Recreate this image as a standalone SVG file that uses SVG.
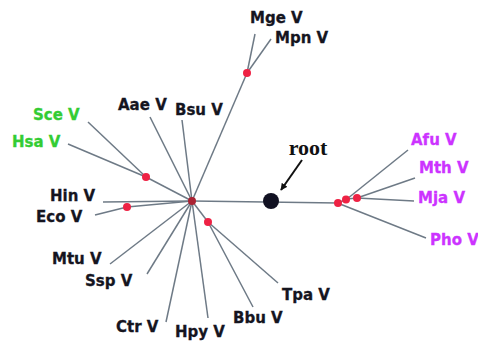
<svg xmlns="http://www.w3.org/2000/svg" width="478" height="341" viewBox="0 0 478 341">
<style>
.e{stroke:#6e7a86;stroke-width:1.5;fill:none}
.t{font-family:"DejaVu Sans",sans-serif;font-weight:bold;font-size:15px;fill:#15151f;stroke:#15151f;stroke-width:0.3}
.g{fill:#33cc33;stroke:#33cc33}
.m{fill:#cc33ff;stroke:#cc33ff}
.r{fill:#ee2244}
</style>
<defs>
<marker id="ah" viewBox="0 0 10 10" refX="9" refY="5" markerWidth="7" markerHeight="7" markerUnits="userSpaceOnUse" orient="auto"><path d="M0,0 L10,5 L0,10 z" fill="#111"/></marker>
</defs>
<rect width="478" height="341" fill="#fff"/>
<g id="edges">
<line class="e" x1="192" y1="201" x2="338" y2="203"/>
<line class="e" x1="338" y1="203" x2="347" y2="199"/>
<line class="e" x1="347" y1="199" x2="357" y2="198"/>
<line class="e" x1="347" y1="199" x2="408" y2="150"/>
<line class="e" x1="357" y1="198" x2="415" y2="178"/>
<line class="e" x1="357" y1="198" x2="414" y2="201"/>
<line class="e" x1="340" y1="204" x2="426" y2="238"/>
<line class="e" x1="192" y1="201" x2="247" y2="73"/>
<line class="e" x1="247" y1="73" x2="255" y2="34"/>
<line class="e" x1="247" y1="73" x2="271" y2="39"/>
<line class="e" x1="192" y1="201" x2="150" y2="117"/>
<line class="e" x1="192" y1="201" x2="182" y2="120"/>
<line class="e" x1="192" y1="201" x2="146" y2="177"/>
<line class="e" x1="146" y1="177" x2="88" y2="122"/>
<line class="e" x1="146" y1="177" x2="68" y2="144"/>
<line class="e" x1="192" y1="201" x2="103" y2="202"/>
<line class="e" x1="192" y1="201" x2="127" y2="207"/>
<line class="e" x1="127" y1="207" x2="95" y2="215"/>
<line class="e" x1="192" y1="201" x2="110" y2="264"/>
<line class="e" x1="192" y1="201" x2="147" y2="274"/>
<line class="e" x1="192" y1="201" x2="166" y2="322"/>
<line class="e" x1="192" y1="201" x2="208" y2="318"/>
<line class="e" x1="192" y1="201" x2="208" y2="222"/>
<line class="e" x1="208" y1="222" x2="278" y2="283"/>
<line class="e" x1="208" y1="222" x2="253" y2="307"/>
<line x1="302" y1="160" x2="281" y2="190" stroke="#111" stroke-width="2" marker-end="url(#ah)"/>
</g>
<g id="dots">
<circle cx="192" cy="201" r="4" fill="#aa2233"/>
<circle class="r" cx="247" cy="73" r="4"/>
<circle class="r" cx="146" cy="177" r="4"/>
<circle class="r" cx="127" cy="207" r="4"/>
<circle class="r" cx="208" cy="222" r="4"/>
<circle class="r" cx="338" cy="203" r="4"/>
<circle class="r" cx="346" cy="199.5" r="4"/>
<circle class="r" cx="357" cy="198" r="4"/>
</g>
<g id="root"><circle cx="271" cy="201" r="8" fill="#111122"/><text x="308" y="155" text-anchor="middle" font-family="'Liberation Serif',serif" font-weight="bold" font-size="22" fill="#111">root</text></g>
<g id="Mge"><text class="t" x="250" y="23">Mge V</text></g>
<g id="Mpn"><text class="t" x="275" y="43">Mpn V</text></g>
<g id="Aae"><text class="t" x="118" y="110">Aae V</text></g>
<g id="Bsu"><text class="t" x="175" y="115">Bsu V</text></g>
<g id="Sce"><text class="t g" x="33" y="120">Sce V</text></g>
<g id="Hsa"><text class="t g" x="12" y="147">Hsa V</text></g>
<g id="Hin"><text class="t" x="50" y="201">Hin V</text></g>
<g id="Eco"><text class="t" x="36" y="222">Eco V</text></g>
<g id="Mtu"><text class="t" x="52" y="264">Mtu V</text></g>
<g id="Ssp"><text class="t" x="85" y="286">Ssp V</text></g>
<g id="Ctr"><text class="t" x="116" y="332">Ctr V</text></g>
<g id="Hpy"><text class="t" x="175" y="337">Hpy V</text></g>
<g id="Bbu"><text class="t" x="233" y="323">Bbu V</text></g>
<g id="Tpa"><text class="t" x="282" y="300">Tpa V</text></g>
<g id="Afu"><text class="t m" x="411" y="145">Afu V</text></g>
<g id="Mth"><text class="t m" x="419" y="173">Mth V</text></g>
<g id="Mja"><text class="t m" x="418" y="203">Mja V</text></g>
<g id="Pho"><text class="t m" x="430" y="245">Pho V</text></g>
</svg>
